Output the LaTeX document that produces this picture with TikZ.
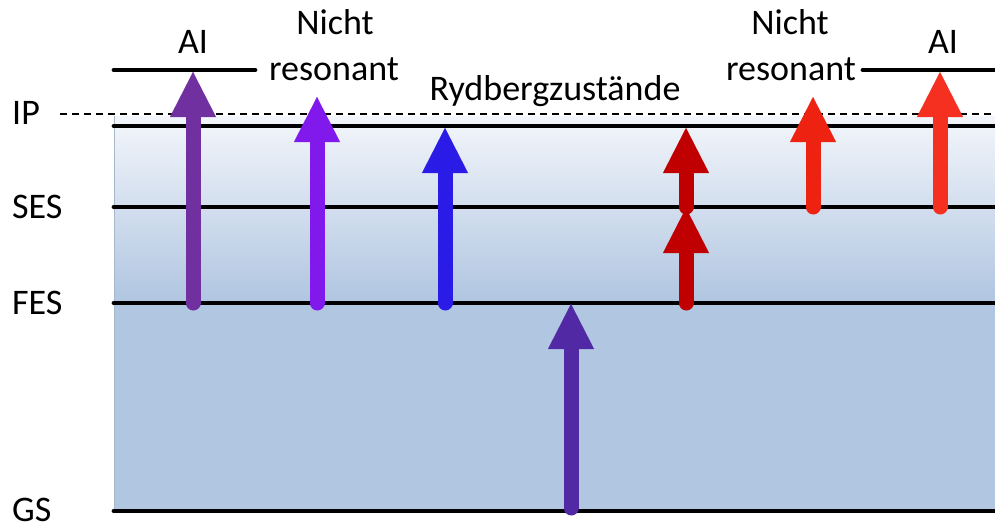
\documentclass[tikz,border=0pt]{standalone}
\usepackage{fontspec}
\setmainfont{Carlito}
\usetikzlibrary{arrows.meta}
\definecolor{bgtop}{HTML}{F3F6FB}
\definecolor{bgbot}{HTML}{B1C6E1}
\definecolor{cAIl}{HTML}{7030A0}
\definecolor{cNRl}{HTML}{8119EC}
\definecolor{cRyd}{HTML}{2A1BE6}
\definecolor{cGS}{HTML}{5229A4}
\definecolor{cDbl}{HTML}{C00000}
\definecolor{cNRr}{HTML}{EE2211}
\definecolor{cAIr}{HTML}{F53020}
\begin{document}
\begin{tikzpicture}[x=1pt,y=-1pt,
  level/.style={line width=4.8pt, line cap=round},
  ipline/.style={line width=2pt, dash pattern=on 7pt off 5pt},
  lbl/.style={font=\fontsize{36}{42}\selectfont, inner sep=0pt, anchor=base},
  photon/.style={line width=15pt, line cap=round,
    -{Triangle[width=46pt,length=45pt,line width=0.01pt]}}]
\useasboundingbox (0,0) rectangle (995,527);
% background
\shade[top color=bgtop, bottom color=bgbot] (114,116) rectangle (995,300);
\fill[bgbot] (114,299) rectangle (995,511);
\draw[line width=0.6pt, color=bgbot!80!gray] (114,116) -- (114,511);
% level coordinates
\coordinate (ipd1) at (60,114);   \coordinate (ipd2) at (995,114);
\coordinate (ip1) at (114,126);   \coordinate (ip2) at (995,126);
\coordinate (ses1) at (114,207);  \coordinate (ses2) at (995,207);
\coordinate (fes1) at (114,303);  \coordinate (fes2) at (995,303);
\coordinate (gs1) at (114,511);   \coordinate (gs2) at (995,511);
\coordinate (ail1) at (114,70);   \coordinate (ail2) at (255,70);
\coordinate (air1) at (863,70);   \coordinate (air2) at (995,70);
% levels
\draw[ipline] (ipd1) -- (ipd2);
\draw[level] (ip1) -- (ip2);
\draw[level] (ses1) -- (ses2);
\draw[level] (fes1) -- (fes2);
\draw[level] (gs1) -- (gs2);
\draw[level] (ail1) -- (ail2);
\draw[level] (air1) -- (air2);
% labels
\node[lbl, anchor=base west] (lIP)  at (12,124) {IP};
\node[lbl, anchor=base west] (lSES) at (12,218) {SES};
\node[lbl, anchor=base west] (lFES) at (12,314) {FES};
\node[lbl, anchor=base west] (lGS)  at (12,521) {GS};
\node[lbl] (tAIl) at (193,53) {AI};
\node[lbl] (tNRl1) at (335,35) {Nicht};
\node[lbl] (tNRl2) at (334,80) {resonant};
\node[lbl] (tRyd) at (555,100) {Rydbergzustände};
\node[lbl] (tNRr1) at (790,35) {Nicht};
\node[lbl] (tNRr2) at (791,80) {resonant};
\node[lbl] (tAIr) at (943,53) {AI};
% arrow end points
\coordinate (a1s) at (193,303); \coordinate (a1e) at (193,72);
\coordinate (a2s) at (317,303); \coordinate (a2e) at (317,97);
\coordinate (a3s) at (445,303); \coordinate (a3e) at (445,128);
\coordinate (a4s) at (571,508); \coordinate (a4e) at (571,304);
\coordinate (a5s) at (686,303); \coordinate (a5e) at (686,208);
\coordinate (a6s) at (686,207); \coordinate (a6e) at (686,128);
\coordinate (a7s) at (813,207); \coordinate (a7e) at (813,97);
\coordinate (a8s) at (940,207); \coordinate (a8e) at (940,72);
% arrows
\draw[photon, cAIl] (a1s) -- (a1e);
\draw[photon, cNRl] (a2s) -- (a2e);
\draw[photon, cRyd] (a3s) -- (a3e);
\draw[photon, cGS]  (a4s) -- (a4e);
\draw[photon, cDbl] (a5s) -- (a5e);
\draw[photon, cDbl] (a6s) -- (a6e);
\draw[photon, cNRr] (a7s) -- (a7e);
\draw[photon, cAIr] (a8s) -- (a8e);
\end{tikzpicture}
\end{document}
